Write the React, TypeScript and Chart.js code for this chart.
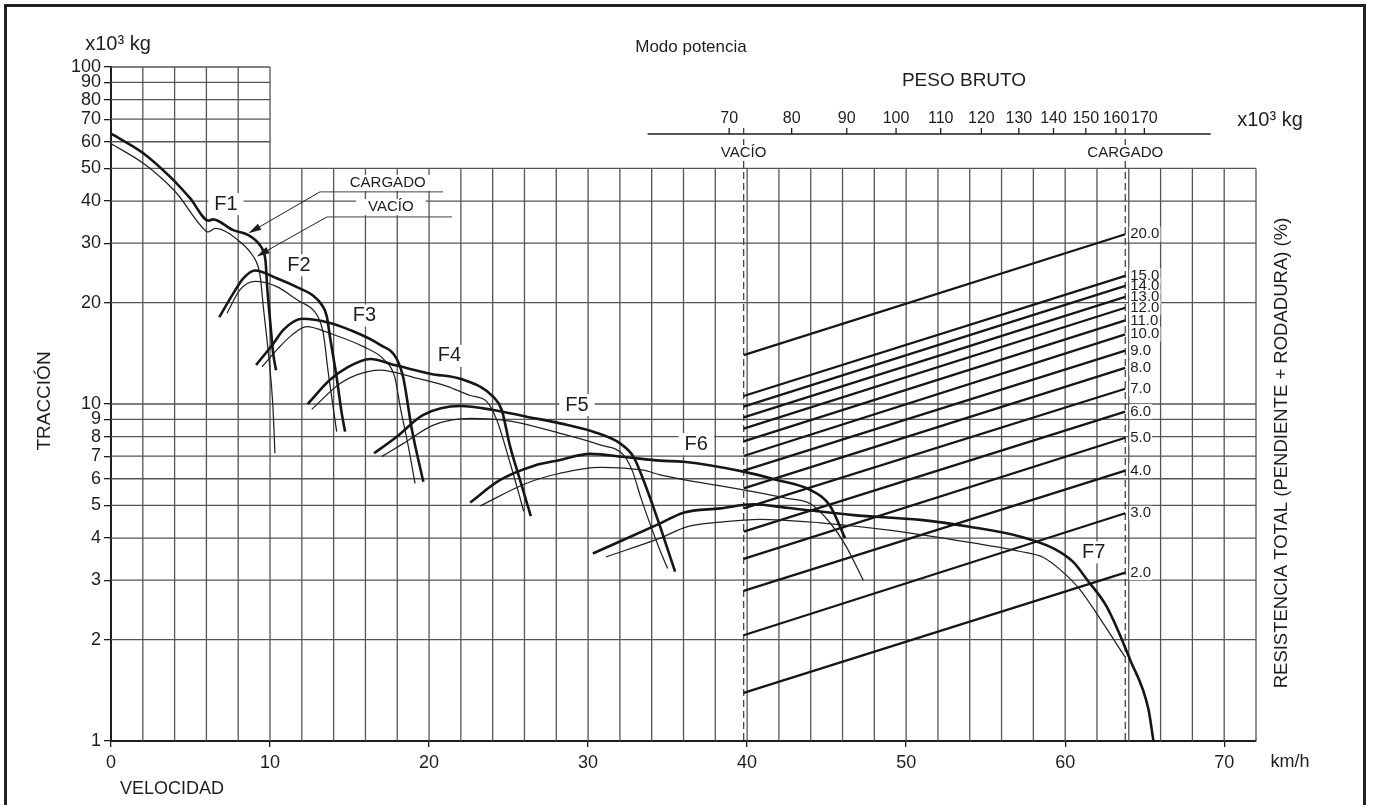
import { useEffect, useRef } from 'react';
import { Chart, registerables } from 'chart.js';

Chart.register(...registerables);

const FONT = '"Liberation Sans", Arial, Helvetica, sans-serif';
const INK = '#1e1e1e';
const GRID = '#555555';

// ---------- axes ----------
const X_TICKS = [0, 10, 20, 30, 40, 50, 60, 70];
const Y_TICKS = [1, 2, 3, 4, 5, 6, 7, 8, 9, 10, 20, 30, 40, 50, 60, 70, 80, 90, 100];
const Y_GRID_MAIN = [2, 3, 4, 5, 6, 7, 8, 9, 10, 20, 30, 40, 50];
const Y_GRID_UPPER = [60, 70, 80, 90, 100];
const PESO_TICKS = [70, 80, 90, 100, 110, 120, 130, 140, 150, 160, 170];
const PESO_VACIO = 72.2;
const PESO_CARGADO = 163.2;
const PESO_AXIS_FROM = 58.8;
const PESO_AXIS_TO = 195.9;

// ---------- rimpull curves [km/h, x10^3 kg] ----------
type Pt = [number, number];
const GEARS = ['F1', 'F2', 'F3', 'F4', 'F5', 'F6', 'F7'];

const F1_CARGADO: Pt[] = [[0.04, 63.3], [2.03, 55.5], [3.82, 46.7], [4.97, 40.8], [6.15, 35.0], [6.4, 35.3], [7.69, 32.8], [8.64, 31.7], [9.37, 29.6], [9.6, 28.2], [9.72, 26.5], [9.82, 22.3], [10.0, 17.8], [10.2, 14.1], [10.38, 12.6]];
const F1_VACIO: Pt[] = [[0.04, 59.1], [2.03, 51.8], [3.3, 46.2], [4.13, 42.2], [6.0, 32.5], [6.1, 32.4], [6.54, 33.2], [8.11, 30.3], [8.95, 27.4], [9.26, 25.5], [9.4, 23.6], [9.58, 19.4], [9.9, 14.1], [10.17, 10.05], [10.31, 7.14]];
const F2_CARGADO: Pt[] = [[6.81, 18.1], [7.69, 21.3], [8.32, 23.6], [9.06, 24.9], [10.42, 23.6], [11.9, 22.0], [12.7, 21.0], [13.25, 19.7], [13.57, 18.2], [13.77, 15.8], [14.2, 11.9], [14.51, 9.38], [14.72, 8.28]];
const F2_VACIO: Pt[] = [[7.3, 18.6], [8.11, 21.8], [9.06, 23.1], [10.42, 22.3], [11.9, 20.1], [12.5, 19.4], [13.0, 18.2], [13.35, 16.2], [13.67, 12.3], [14.19, 8.28]];
const F3_CARGADO: Pt[] = [[9.12, 13.05], [10.2, 15.1], [10.84, 16.6], [12.0, 17.9], [13.77, 17.4], [15.0, 16.6], [16.9, 15.0], [17.97, 13.6], [18.39, 11.9], [18.91, 8.45], [19.64, 5.88]];
const F3_VACIO: Pt[] = [[9.5, 12.9], [10.5, 14.6], [11.3, 15.9], [12.3, 16.97], [13.77, 16.2], [15.87, 14.8], [17.2, 13.5], [17.85, 12.0], [18.18, 9.84], [18.7, 7.47], [19.12, 5.81]];
const F4_CARGADO: Pt[] = [[12.37, 10.0], [13.77, 11.8], [14.82, 12.8], [16.29, 13.6], [17.97, 13.0], [20.06, 12.3], [22.16, 11.8], [24.04, 10.5], [24.57, 9.6], [25.1, 7.47], [25.72, 5.95], [26.4, 4.65]];
const F4_VACIO: Pt[] = [[12.62, 9.64], [14.4, 11.5], [15.45, 12.2], [16.92, 12.6], [19.01, 12.0], [21.1, 11.3], [22.58, 10.6], [23.6, 10.2], [24.26, 8.97], [25.1, 6.67], [25.7, 5.31], [25.95, 4.8]];
const F5_CARGADO: Pt[] = [[16.54, 7.14], [17.97, 8.0], [19.64, 9.28], [21.95, 9.86], [24.04, 9.6], [26.14, 9.17], [28.24, 8.76], [30.33, 8.27], [32.01, 7.64], [32.85, 6.98], [33.48, 5.95], [34.1, 4.95], [34.53, 4.33], [35.47, 3.18]];
const F5_VACIO: Pt[] = [[17.02, 6.98], [18.39, 7.64], [20.27, 8.66], [22.58, 9.07], [25.1, 8.9], [28.24, 8.18], [30.75, 7.56], [32.22, 7.06], [32.8, 6.3], [33.3, 5.3], [33.9, 4.4], [34.5, 3.7], [35.0, 3.25]];
const F6_CARGADO: Pt[] = [[22.58, 5.1], [24.47, 5.95], [26.56, 6.55], [28.24, 6.82], [30.13, 7.11], [32.43, 6.95], [34.53, 6.79], [36.0, 6.74], [39.77, 6.3], [41.87, 5.95], [43.96, 5.56], [45.2, 5.0], [46.16, 4.0]];
const F6_VACIO: Pt[] = [[23.2, 4.98], [26.14, 5.82], [28.24, 6.23], [30.75, 6.49], [33.48, 6.36], [34.53, 6.16], [39.77, 5.56], [42.5, 5.25], [44.0, 5.05], [45.2, 4.45], [46.2, 3.8], [47.3, 3.0]];
const F7_CARGADO: Pt[] = [[30.3, 3.6], [34.43, 4.4], [36.0, 4.76], [38.3, 4.9], [40.4, 5.04], [42.5, 4.92], [46.7, 4.68], [50.9, 4.53], [54.0, 4.32], [57.2, 4.04], [59.26, 3.73], [60.5, 3.4], [61.4, 3.0], [62.62, 2.5], [64.09, 1.74], [65.24, 1.24], [65.55, 1.0]];
const F7_VACIO: Pt[] = [[31.13, 3.52], [34.53, 4.0], [36.2, 4.32], [38.3, 4.46], [40.8, 4.55], [44.6, 4.44], [48.8, 4.23], [53.0, 3.95], [57.2, 3.65], [58.6, 3.51], [59.7, 3.22], [60.94, 2.81], [62.4, 2.23], [63.75, 1.78]];

const CARGADO_CURVES = [F1_CARGADO, F2_CARGADO, F3_CARGADO, F4_CARGADO, F5_CARGADO, F6_CARGADO, F7_CARGADO];
const VACIO_CURVES = [F1_VACIO, F2_VACIO, F3_VACIO, F4_VACIO, F5_VACIO, F6_VACIO, F7_VACIO];

// gear label anchors [km/h, x10^3 kg]
const GEAR_LABEL_KMH = [7.23, 11.82, 15.93, 21.28, 29.3, 36.8, 61.8];
const GEAR_LABEL_T = [39.2, 25.8, 18.3, 13.9, 9.93, 7.6, 3.63];

// ---------- total resistance lines (weight -> x10^3 kg) ----------
const RESIST_LABELS = ['20.0', '15.0', '14.0', '13.0', '12.0', '11.0', '10.0', '9.0', '8.0', '7.0', '6.0', '5.0', '4.0', '3.0', '2.0'];
const RESIST_AT_VACIO = [13.97, 10.56, 9.82, 9.13, 8.45, 7.75, 7.01, 6.34, 5.62, 4.9, 4.18, 3.47, 2.79, 2.06, 1.39];
const RESIST_AT_CARGADO = [31.9, 24.0, 22.4, 20.8, 19.3, 17.7, 16.1, 14.4, 12.8, 11.1, 9.49, 7.94, 6.34, 4.74, 3.16];

// ---------- CARGADO / VACÍO call-outs ----------
const CALLOUT_TEXT = ['CARGADO', 'VACÍO'];
const CALLOUT_KMH = [17.4, 17.6];
const CALLOUT_T = [45.3, 38.4];
const CALLOUT_LINE_START_KMH = [13.14, 13.58];
const CALLOUT_LINE_END_KMH = [20.88, 21.45];
const CALLOUT_LINE_T = [42.6, 35.9];
const CALLOUT_TIP_KMH = [8.64, 9.16];
const CALLOUT_TIP_T = [32.1, 27.4];

function boxedText(ctx: CanvasRenderingContext2D, text: string, x: number, y: number, font: string, align: CanvasTextAlign, padX: number, halfH: number) {
  ctx.font = font;
  const w = ctx.measureText(text).width;
  const left = align === 'center' ? x - w / 2 : align === 'left' ? x : x - w;
  ctx.fillStyle = '#ffffff';
  ctx.fillRect(left - padX, y - halfH, w + 2 * padX, 2 * halfH);
}

function plainText(ctx: CanvasRenderingContext2D, text: string, x: number, y: number, font: string, align: CanvasTextAlign) {
  ctx.font = font;
  ctx.fillStyle = INK;
  ctx.textAlign = align;
  ctx.textBaseline = 'middle';
  ctx.fillText(text, x, y);
}

function rotatedText(ctx: CanvasRenderingContext2D, text: string, x: number, y: number, font: string) {
  ctx.save();
  ctx.translate(x, y);
  ctx.rotate(-Math.PI / 2);
  plainText(ctx, text, 0, 0, font, 'center');
  ctx.restore();
}

const decor = {
  id: 'decor',
  beforeDatasetsDraw(chart: any) {
    const { ctx, chartArea: ca } = chart;
    const xs = chart.scales.x, ys = chart.scales.y, ws = chart.scales.w;
    const X = (v: number) => xs.getPixelForValue(v);
    const Y = (v: number) => ys.getPixelForValue(v);
    const W = (v: number) => ws.getPixelForValue(v);
    ctx.save();

    // grid
    ctx.strokeStyle = GRID;
    ctx.lineWidth = 1.3;
    ctx.beginPath();
    for (let k = 2; k <= 72; k += 2) {
      const x = X(k);
      ctx.moveTo(x, Y(1));
      ctx.lineTo(x, k <= 10 ? Y(100) : Y(50));
    }
    Y_GRID_MAIN.forEach((v) => { ctx.moveTo(X(0), Y(v)); ctx.lineTo(X(72), Y(v)); });
    Y_GRID_UPPER.forEach((v) => { ctx.moveTo(X(0), Y(v)); ctx.lineTo(X(10), Y(v)); });
    ctx.stroke();

    // peso bruto axis
    const axisY = ca.top + 67;
    ctx.strokeStyle = INK;
    ctx.lineWidth = 1.3;
    ctx.beginPath();
    ctx.moveTo(W(PESO_AXIS_FROM), axisY);
    ctx.lineTo(W(PESO_AXIS_TO), axisY);
    PESO_TICKS.forEach((v) => { ctx.moveTo(W(v), axisY); ctx.lineTo(W(v), axisY - 6); });
    ctx.stroke();

    // dashed VACÍO / CARGADO verticals
    ctx.strokeStyle = '#444';
    ctx.lineWidth = 1.3;
    ctx.setLineDash([7, 4]);
    ctx.beginPath();
    [PESO_VACIO, PESO_CARGADO].forEach((v) => { ctx.moveTo(W(v), axisY - 6); ctx.lineTo(W(v), Y(1)); });
    ctx.stroke();
    ctx.setLineDash([]);

    const f15 = `15px ${FONT}`;
    const f16 = `16px ${FONT}`;
    const f17 = `17px ${FONT}`;
    const f18 = `18px ${FONT}`;
    const f19 = `19px ${FONT}`;
    const f20 = `20px ${FONT}`;

    PESO_TICKS.forEach((v) => plainText(ctx, String(v), W(v), axisY - 15, f16, 'center'));
    [['VACÍO', PESO_VACIO], ['CARGADO', PESO_CARGADO]].forEach(([t, v]: any) => {
      boxedText(ctx, t, W(v), axisY + 19, f15, 'center', 2, 8);
      plainText(ctx, t, W(v), axisY + 19, f15, 'center');
    });
    plainText(ctx, 'PESO BRUTO', 964, 81, f19, 'center');
    plainText(ctx, 'x10³ kg', 1270, 120, f20, 'center');

    // gear labels
    GEARS.forEach((g, i) => {
      const x = X(GEAR_LABEL_KMH[i]), y = Y(GEAR_LABEL_T[i]);
      boxedText(ctx, g, x, y, f20, 'center', 6, 11);
      plainText(ctx, g, x, y, f20, 'center');
    });

    // resistance labels
    RESIST_LABELS.forEach((t, i) => boxedText(ctx, t, W(PESO_CARGADO) + 5, Y(RESIST_AT_CARGADO[i]), f15, 'left', 1, 7.5));
    RESIST_LABELS.forEach((t, i) => plainText(ctx, t, W(PESO_CARGADO) + 5, Y(RESIST_AT_CARGADO[i]), f15, 'left'));

    // call-out texts and underlines
    CALLOUT_TEXT.forEach((t, i) => {
      const x = X(CALLOUT_KMH[i]), y = Y(CALLOUT_T[i]);
      boxedText(ctx, t, x, y, f15, 'center', 12, 8);
      plainText(ctx, t, x, y, f15, 'center');
    });
    ctx.strokeStyle = '#444';
    ctx.lineWidth = 1;
    ctx.beginPath();
    CALLOUT_TEXT.forEach((_, i) => {
      ctx.moveTo(X(CALLOUT_LINE_START_KMH[i]), Y(CALLOUT_LINE_T[i]));
      ctx.lineTo(X(CALLOUT_LINE_END_KMH[i]), Y(CALLOUT_LINE_T[i]));
    });
    ctx.stroke();

    // titles
    plainText(ctx, 'x10³ kg', 118, 44, f20, 'center');
    plainText(ctx, 'Modo potencia', 691, 47, f17, 'center');
    rotatedText(ctx, 'TRACCIÓN', 45, 401, f19);
    rotatedText(ctx, 'RESISTENCIA TOTAL (PENDIENTE + RODADURA) (%)', 1282, 453, `18.5px ${FONT}`);
    plainText(ctx, 'VELOCIDAD', 172, 789, f18, 'center');
    plainText(ctx, 'km/h', 1290, 762, f18, 'center');
    ctx.restore();
  },
  afterDatasetsDraw(chart: any) {
    const { ctx } = chart;
    const xs = chart.scales.x, ys = chart.scales.y;
    const X = (v: number) => xs.getPixelForValue(v);
    const Y = (v: number) => ys.getPixelForValue(v);
    ctx.save();
    ctx.strokeStyle = INK;
    ctx.fillStyle = INK;
    ctx.lineWidth = 1;
    CALLOUT_TEXT.forEach((_, i) => {
      const x0 = X(CALLOUT_LINE_START_KMH[i]), y0 = Y(CALLOUT_LINE_T[i]);
      const x1 = X(CALLOUT_TIP_KMH[i]), y1 = Y(CALLOUT_TIP_T[i]);
      const a = Math.atan2(y1 - y0, x1 - x0);
      ctx.beginPath();
      ctx.moveTo(x0, y0);
      ctx.lineTo(x1 - 8 * Math.cos(a), y1 - 8 * Math.sin(a));
      ctx.stroke();
      ctx.beginPath();
      ctx.moveTo(x1, y1);
      ctx.lineTo(x1 - 13 * Math.cos(a) + 3.5 * Math.sin(a), y1 - 13 * Math.sin(a) - 3.5 * Math.cos(a));
      ctx.lineTo(x1 - 13 * Math.cos(a) - 3.5 * Math.sin(a), y1 - 13 * Math.sin(a) + 3.5 * Math.cos(a));
      ctx.closePath();
      ctx.fill();
    });
    // outer frame (open at the bottom edge of the picture)
    ctx.strokeStyle = '#222';
    ctx.lineWidth = 3;
    ctx.strokeRect(5.5, 5.5, 1359, 810);
    ctx.restore();
  },
};

export default function App() {
  const ref = useRef<HTMLCanvasElement | null>(null);
  useEffect(() => {
    if (!ref.current) return;
    const datasets: any[] = [];
    CARGADO_CURVES.forEach((pts, i) => datasets.push({
      label: `${GEARS[i]} CARGADO`,
      data: pts.map(([x, y]) => ({ x, y })),
      borderColor: '#161616', borderWidth: 2.6, pointRadius: 0, fill: false,
      cubicInterpolationMode: 'monotone', xAxisID: 'x', yAxisID: 'y',
    }));
    VACIO_CURVES.forEach((pts, i) => datasets.push({
      label: `${GEARS[i]} VACÍO`,
      data: pts.map(([x, y]) => ({ x, y })),
      borderColor: '#222', borderWidth: 1.25, pointRadius: 0, fill: false,
      cubicInterpolationMode: 'monotone', xAxisID: 'x', yAxisID: 'y',
    }));
    RESIST_LABELS.forEach((t, i) => datasets.push({
      label: `${t} %`,
      data: [{ x: PESO_VACIO, y: RESIST_AT_VACIO[i] }, { x: PESO_CARGADO, y: RESIST_AT_CARGADO[i] }],
      borderColor: '#161616', borderWidth: 2.3, pointRadius: 0, fill: false, tension: 0,
      xAxisID: 'w', yAxisID: 'y',
    }));

    const chart = new Chart(ref.current, {
      type: 'line',
      data: { datasets },
      options: {
        responsive: false,
        animation: false,
        devicePixelRatio: 1,
        layout: { padding: { left: 0, right: 117, top: 67, bottom: 0 } },
        plugins: { legend: { display: false }, tooltip: { enabled: false }, title: { display: false } },
        scales: {
          x: {
            type: 'linear', min: 0, max: 72, position: 'bottom',
            afterBuildTicks: (s: any) => { s.ticks = X_TICKS.map((v) => ({ value: v })); },
            afterFit: (s: any) => { s.height = 64; },
            ticks: { font: { family: FONT, size: 18 }, color: INK, padding: 5, autoSkip: false, maxRotation: 0, callback: (v: any) => String(v) },
            grid: { drawOnChartArea: false, drawTicks: true, tickLength: 6, color: INK, lineWidth: 1.3 },
            border: { display: true, color: INK, width: 2 },
          },
          y: {
            type: 'logarithmic', min: 1, max: 100, position: 'left',
            afterBuildTicks: (s: any) => { s.ticks = Y_TICKS.map((v) => ({ value: v })); },
            afterFit: (s: any) => { s.width = 111; },
            ticks: { font: { family: FONT, size: 18 }, color: INK, padding: 3, autoSkip: false, callback: (v: any) => String(v) },
            grid: { drawOnChartArea: false, drawTicks: true, tickLength: 7, color: INK, lineWidth: 1.3 },
            border: { display: true, color: INK, width: 2 },
          },
          w: {
            type: 'logarithmic', axis: 'x', position: 'top', display: false, min: 18.68, max: 215.8,
          },
        },
      } as any,
      plugins: [decor],
    });
    return () => chart.destroy();
  }, []);
  return (
    <div style={{ position: 'absolute', left: 0, top: 0, width: 1373, height: 805, background: '#fff' }}>
      <canvas ref={ref} width={1373} height={805} style={{ display: 'block' }} />
    </div>
  );
}
